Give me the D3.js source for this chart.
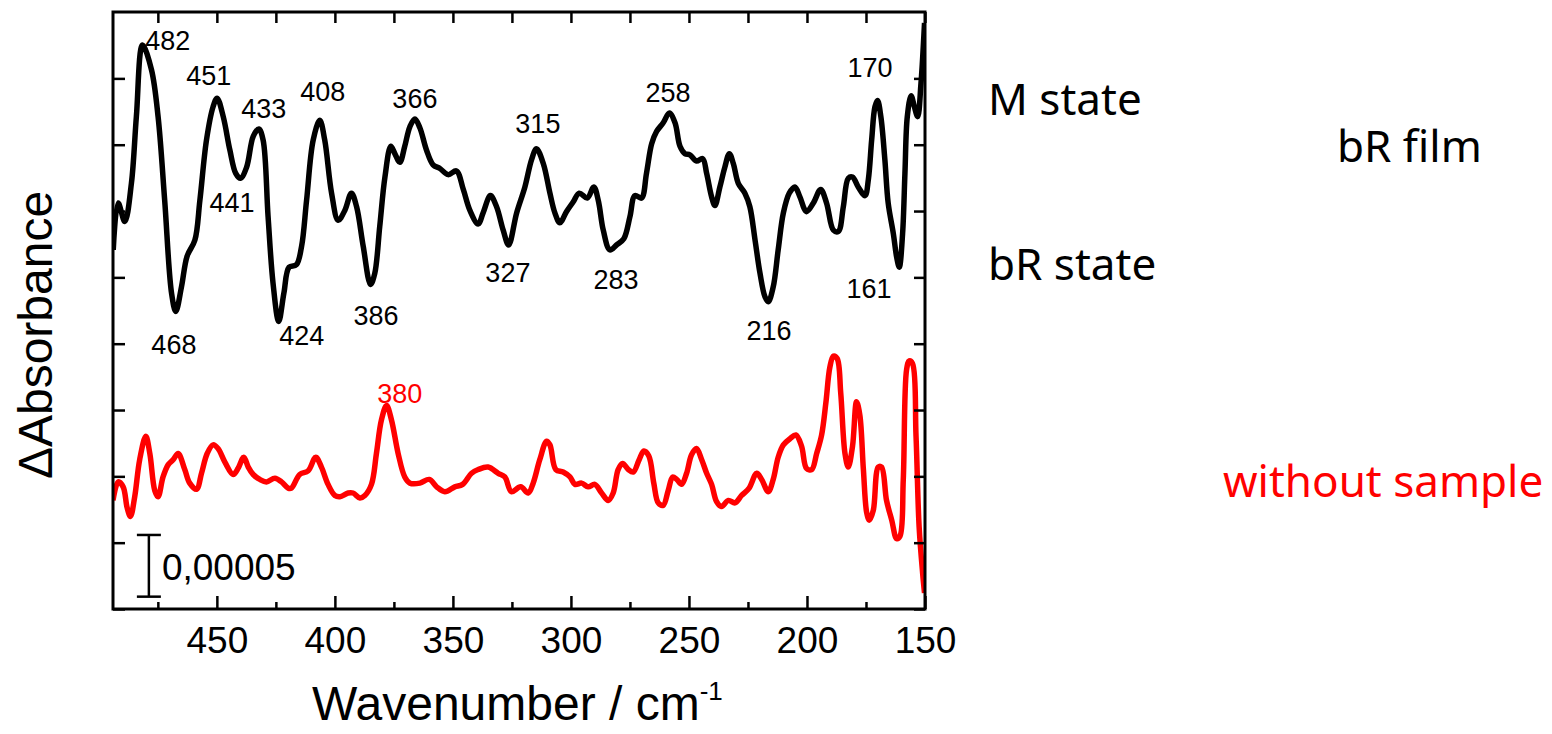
<!DOCTYPE html>
<head>
  <style>
    body { margin: 0; background: #fff; }
    text { font-family: "Liberation Sans", Arial, sans-serif; }
    .side { font-family: "Noto Sans", "DejaVu Sans", sans-serif; font-size: 44px; }
  </style>
<title>bR film difference spectrum</title>
</head>

<body>

  <script src="https://cdn.jsdelivr.net/npm/d3@7"></script>

  <script>
    // dimensions of the page and of the plot box
    var width = 1552;
    var height = 734;
    var margin = { top: 12, left: 113, bottom: 125, right: 627 }

    // spectra: [wavenumber, dA in units of 1e-5]
    var mStateSpectrum = [
      [493.9, 29.1], [491.8, 32.9], [489.0, 31.4], [486.2, 34.5], [484.1, 39.9], [481.5, 45.7],
      [477.7, 43.7], [474.9, 39.9], [472.1, 33.1], [469.2, 25.6], [467.4, 24.1], [465.0, 26.1],
      [462.6, 28.6], [459.3, 29.9], [457.2, 33.1], [454.4, 38.0], [451.6, 40.7], [449.9, 41.4],
      [447.3, 39.9], [444.5, 37.2], [442.0, 35.3], [440.0, 34.9], [437.4, 35.8], [434.6, 38.3],
      [432.2, 38.9], [430.4, 38.0], [428.3, 31.8], [426.2, 26.4], [423.8, 23.3], [421.6, 25.6],
      [419.4, 27.7], [416.3, 27.9], [414.1, 29.4], [412.0, 33.1], [409.2, 38.0], [406.4, 39.6],
      [404.3, 38.0], [401.4, 33.7], [398.6, 31.5], [395.8, 32.3], [393.0, 33.7], [390.8, 32.6],
      [388.0, 29.4], [384.9, 26.3], [383.1, 27.2], [381.0, 31.0], [378.8, 35.0], [376.3, 37.5],
      [374.6, 36.9], [372.5, 36.2], [370.4, 37.5], [368.2, 39.1], [366.1, 39.7], [364.0, 39.0],
      [361.2, 37.2], [358.4, 36.0], [355.5, 35.7], [352.0, 35.2], [348.5, 35.5], [345.6, 34.0],
      [342.8, 32.3], [339.3, 31.2], [337.2, 32.1], [334.1, 33.5], [331.5, 32.6], [328.7, 30.7],
      [326.4, 29.5], [323.0, 32.1], [319.5, 34.2], [316.7, 36.4], [314.6, 37.3], [311.7, 36.1],
      [308.9, 33.7], [306.8, 32.1], [304.7, 31.3], [301.9, 32.2], [299.0, 33.0], [296.5, 33.7],
      [293.1, 33.3], [290.3, 34.2], [288.4, 33.1], [286.3, 30.7], [283.5, 29.1], [280.7, 29.5],
      [277.6, 30.0], [275.0, 31.8], [272.9, 33.5], [270.1, 33.3], [268.0, 35.3], [265.8, 37.7],
      [263.7, 38.7], [260.9, 39.4], [258.3, 40.2], [255.9, 39.4], [253.8, 37.5], [251.7, 36.9],
      [249.6, 36.8], [246.8, 36.3], [244.2, 36.5], [242.5, 35.3], [240.4, 33.4], [239.0, 32.7],
      [236.9, 34.2], [234.8, 35.8], [232.9, 36.9], [231.2, 36.1], [229.1, 34.5], [226.3, 33.7],
      [224.2, 32.6], [222.0, 29.9], [219.9, 27.2], [217.8, 25.3], [216.4, 24.9], [214.3, 26.1],
      [212.2, 29.1], [210.0, 32.1], [207.5, 33.7], [205.1, 34.2], [203.0, 33.4], [200.2, 32.2],
      [197.3, 32.9], [194.2, 34.0], [191.7, 32.9], [188.8, 30.7], [186.7, 30.6], [184.6, 32.6],
      [182.5, 34.9], [180.7, 35.0], [178.3, 34.2], [175.4, 33.5], [174.0, 34.8], [172.6, 38.0],
      [171.2, 40.7], [170.1, 41.2], [168.7, 39.9], [167.0, 36.4], [165.6, 32.9], [163.4, 30.4],
      [162.0, 28.5], [160.9, 27.7], [159.5, 30.4], [158.5, 35.3], [157.5, 39.9], [155.9, 41.6],
      [154.5, 40.7], [153.1, 39.9], [151.7, 42.6], [150.2, 47.5]
    ];

    var noSampleSpectrum = [
      [494.0, 8.8], [491.8, 10.3], [489.7, 9.9], [488.0, 8.2], [486.6, 7.5], [484.8, 9.1],
      [482.7, 12.1], [480.1, 14.0], [478.4, 12.6], [476.3, 9.6], [474.9, 9.1], [472.8, 10.7],
      [470.6, 11.7], [468.5, 12.1], [466.4, 12.6], [463.6, 11.3], [461.5, 10.2], [458.6, 9.7],
      [456.5, 11.0], [454.1, 12.6], [451.6, 13.3], [449.5, 13.0], [446.6, 11.9], [443.1, 10.9],
      [441.0, 11.4], [438.6, 12.3], [436.7, 11.5], [434.6, 10.9], [431.8, 10.5], [429.0, 10.3],
      [425.4, 10.6], [422.6, 10.3], [419.8, 9.8], [418.4, 9.8], [414.9, 10.9], [411.3, 11.2],
      [408.1, 12.3], [405.7, 11.5], [402.9, 10.1], [400.0, 9.2], [397.9, 9.1], [394.4, 9.4],
      [392.3, 9.4], [389.4, 9.0], [387.3, 9.2], [384.5, 10.1], [382.4, 12.6], [380.3, 15.3],
      [378.1, 16.5], [376.0, 15.3], [373.2, 12.6], [370.4, 10.7], [368.2, 10.2], [364.0, 10.2],
      [360.0, 10.5], [356.9, 9.9], [353.4, 9.5], [349.2, 9.9], [345.9, 10.1], [342.1, 11.0],
      [339.3, 11.3], [335.1, 11.5], [330.8, 11.0], [328.0, 10.7], [325.2, 9.5], [321.3, 9.9],
      [318.1, 9.4], [316.0, 10.2], [313.2, 12.1], [310.3, 13.6], [308.9, 13.3], [306.4, 11.3],
      [303.3, 11.1], [300.4, 10.7], [298.3, 10.1], [295.5, 10.2], [292.7, 9.9], [289.9, 10.1],
      [287.0, 9.4], [284.2, 8.8], [282.1, 9.4], [280.0, 11.3], [278.1, 11.8], [275.7, 11.3],
      [273.6, 11.1], [271.1, 12.1], [269.1, 12.8], [267.0, 12.4], [264.9, 10.2], [263.0, 8.6],
      [260.9, 8.4], [258.8, 9.6], [256.9, 10.7], [255.2, 10.5], [253.1, 10.1], [251.0, 11.0],
      [248.9, 12.5], [246.8, 13.0], [244.6, 12.1], [242.5, 11.0], [240.4, 10.1], [238.3, 8.7],
      [236.2, 8.3], [233.3, 8.8], [230.5, 8.6], [227.7, 9.2], [224.5, 9.8], [221.3, 11.0],
      [219.2, 10.5], [216.4, 9.5], [214.3, 10.5], [212.2, 12.3], [210.0, 13.3], [207.2, 13.8],
      [204.7, 14.1], [202.3, 13.2], [200.2, 11.4], [198.0, 11.3], [195.9, 12.6], [193.8, 14.1],
      [192.0, 16.7], [190.3, 19.6], [188.8, 20.5], [187.2, 20.3], [185.7, 17.5], [183.9, 12.6],
      [182.5, 11.5], [180.7, 13.2], [179.0, 16.8], [177.6, 15.7], [176.1, 11.3], [174.7, 7.8],
      [173.6, 7.2], [171.9, 8.0], [169.8, 11.5], [168.4, 11.5], [166.3, 8.8], [164.1, 7.2],
      [162.0, 5.7], [160.6, 5.9], [159.2, 10.5], [157.8, 19.4], [156.7, 20.1], [155.3, 19.9],
      [153.8, 14.0], [152.5, 6.7], [151.0, 2.9], [150.2, 1.3]
    ];

    // peak labels: text, label centre wavenumber, label baseline dA
    var peakLabels = [
      ["482", 470.8, 45.3], ["451", 453.4, 42.5], ["433", 430.1, 39.8], ["408", 405.1, 41.2],
      ["366", 366.1, 40.6], ["441", 443.6, 32.2], ["386", 382.6, 23.0], ["424", 414.0, 21.4],
      ["468", 468.2, 20.7], ["327", 326.7, 26.5], ["315", 314.0, 38.6], ["283", 280.9, 25.9],
      ["258", 258.9, 41.1], ["216", 216.1, 21.8], ["170", 173.3, 43.1], ["161", 173.7, 25.2]
    ];
    var redLabels = [["380", 372.5, 16.7]];

    // axis ticks
    var xMajorTicks = [450, 400, 350, 300, 250, 200, 150];
    var xMinorTicks = [475, 425, 375, 325, 275, 225, 175];
    var yTickStep = 5.375;
    var yTicks = d3.range(0, 9).map(function (i) { return i * yTickStep; });

    // scale bar: 0,00005 = 5 units
    var scaleBar = { wn: 478.8, from: 1, to: 6, label: "0,00005" };

    // side annotations
    var sideLabels = [
      { text: "M state", x: 988, y: 115, color: "#000" },
      { text: "bR film", x: 1337, y: 162, color: "#000" },
      { text: "bR state", x: 988, y: 280, color: "#000" },
      { text: "without sample", x: 1223, y: 497, color: "#ff0000" }
    ];

    var xScale = d3.scaleLinear()
      .domain([494, 150])
      .range([margin.left, width - margin.right]);

    var yScale = d3.scaleLinear()
      .domain([0, 48.38])
      .range([height - margin.bottom, margin.top]);

    var svg = d3.select("body").append("svg")
      .attr("width", width)
      .attr("height", height);

    var plotW = width - margin.right - margin.left;
    var plotH = height - margin.bottom - margin.top;

    svg.append("clipPath").attr("id", "clip")
      .append("rect")
      .attr("x", margin.left).attr("y", margin.top)
      .attr("width", plotW).attr("height", plotH);

    var line = d3.line()
      .x(function (d) { return xScale(d[0]); })
      .y(function (d) { return yScale(d[1]); })
      .curve(d3.curveCatmullRom.alpha(0.5));

    // spectra
    svg.append("path")
      .datum(mStateSpectrum)
      .attr("clip-path", "url(#clip)")
      .attr("fill", "none")
      .attr("stroke", "#000")
      .attr("stroke-width", 5.5)
      .attr("stroke-linejoin", "round")
      .attr("d", line);

    svg.append("path")
      .datum(noSampleSpectrum)
      .attr("clip-path", "url(#clip)")
      .attr("fill", "none")
      .attr("stroke", "#ff0000")
      .attr("stroke-width", 5.5)
      .attr("stroke-linejoin", "round")
      .attr("d", line);

    // axes (ticks point inward)
    function styleAxis(g) {
      g.select(".domain").remove();
      g.selectAll(".tick line").attr("stroke", "#000").attr("stroke-width", 2.5);
    }

    svg.append("g")
      .attr("transform", "translate(0," + (height - margin.bottom) + ")")
      .call(d3.axisBottom(xScale).tickValues(xMajorTicks).tickSize(-13).tickPadding(18))
      .call(styleAxis)
      .selectAll("text")
      .attr("font-size", 37)
      .attr("font-family", "Liberation Sans, Arial, sans-serif")
      .attr("fill", "#000");

    svg.append("g")
      .attr("transform", "translate(0," + (height - margin.bottom) + ")")
      .call(d3.axisBottom(xScale).tickValues(xMinorTicks).tickSize(-7).tickFormat(""))
      .call(styleAxis);

    svg.append("g")
      .attr("transform", "translate(0," + margin.top + ")")
      .call(d3.axisTop(xScale).tickValues(xMajorTicks.concat(xMinorTicks)).tickSize(-11).tickFormat(""))
      .call(styleAxis);

    svg.append("g")
      .attr("transform", "translate(" + margin.left + ",0)")
      .call(d3.axisLeft(yScale).tickValues(yTicks).tickSize(-12).tickFormat(""))
      .call(styleAxis);

    svg.append("g")
      .attr("transform", "translate(" + (width - margin.right) + ",0)")
      .call(d3.axisRight(yScale).tickValues(yTicks).tickSize(-11).tickFormat(""))
      .call(styleAxis);

    // frame
    svg.append("rect")
      .attr("x", margin.left).attr("y", margin.top)
      .attr("width", plotW).attr("height", plotH)
      .attr("fill", "none")
      .attr("stroke", "#000")
      .attr("stroke-width", 3);

    // peak labels
    svg.append("g").selectAll("text")
      .data(peakLabels)
      .enter()
      .append("text")
      .attr("x", function (d) { return xScale(d[1]); })
      .attr("y", function (d) { return yScale(d[2]); })
      .attr("text-anchor", "middle")
      .attr("font-size", 27)
      .attr("fill", "#000")
      .text(function (d) { return d[0]; });

    svg.append("g").selectAll("text")
      .data(redLabels)
      .enter()
      .append("text")
      .attr("x", function (d) { return xScale(d[1]); })
      .attr("y", function (d) { return yScale(d[2]); })
      .attr("text-anchor", "middle")
      .attr("font-size", 27)
      .attr("fill", "#ff0000")
      .text(function (d) { return d[0]; });

    // scale bar
    var sb = svg.append("g").attr("stroke", "#000").attr("stroke-width", 2.5);
    var sbx = xScale(scaleBar.wn);
    sb.append("line")
      .attr("x1", sbx).attr("x2", sbx)
      .attr("y1", yScale(scaleBar.from)).attr("y2", yScale(scaleBar.to));
    [scaleBar.from, scaleBar.to].forEach(function (v) {
      sb.append("line")
        .attr("x1", sbx - 12).attr("x2", sbx + 12)
        .attr("y1", yScale(v)).attr("y2", yScale(v));
    });
    svg.append("text")
      .attr("x", sbx + 13)
      .attr("y", yScale(2.35))
      .attr("font-size", 37)
      .text(scaleBar.label);

    // axis titles
    var xt = svg.append("text")
      .attr("x", 312)
      .attr("y", 720)
      .attr("font-size", 48)
      .text("Wavenumber / cm");
    xt.append("tspan")
      .attr("dy", -20)
      .attr("font-size", 26)
      .text("-1");

    svg.append("text")
      .attr("transform", "translate(52, 335) rotate(-90)")
      .attr("text-anchor", "middle")
      .attr("font-size", 48)
      .text("\u0394Absorbance");

    // side annotations
    svg.append("g").selectAll("text")
      .data(sideLabels)
      .enter()
      .append("text")
      .attr("class", "side")
      .attr("x", function (d) { return d.x; })
      .attr("y", function (d) { return d.y; })
      .attr("fill", function (d) { return d.color; })
      .text(function (d) { return d.text; });

  </script>

</body>
